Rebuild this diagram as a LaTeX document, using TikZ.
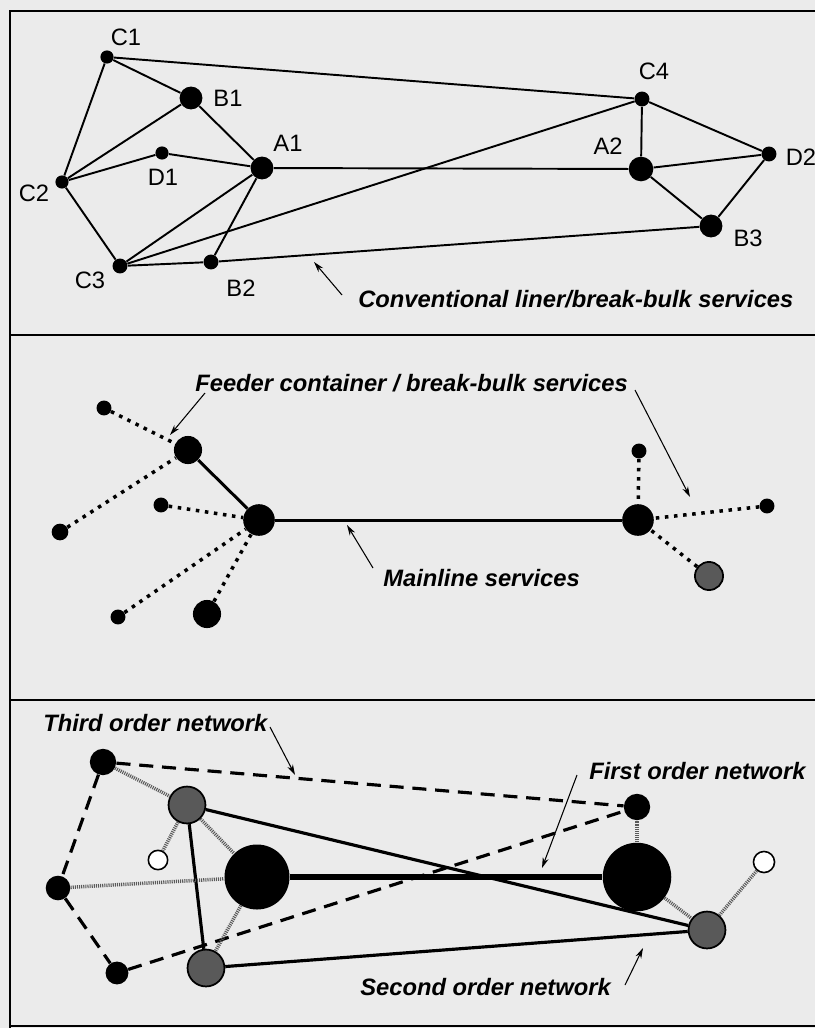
\documentclass[tikz,border=0pt]{standalone}
\usepackage{fontspec}
\setmainfont{Liberation Sans}
\usepackage{tikz}
\usetikzlibrary{arrows.meta}

\begin{document}
\begin{tikzpicture}[x=0.02cm,y=-0.02cm,
  port/.style={circle,fill=black,inner sep=0pt,minimum size=#1},
  grain/.style={circle,draw=black,fill=black!65,line width=1pt,inner sep=0pt,minimum size=#1},
  ring/.style={circle,draw=black,fill=white,line width=0.9pt,inner sep=0pt,minimum size=#1},
  lbl/.style={inner sep=0pt,font=\fontsize{13.5}{15}\selectfont},
  tag/.style={anchor=west,inner sep=0pt,font=\fontsize{13.5}{15}\selectfont\bfseries\itshape},
  route/.style={line width=1.1pt},
  main/.style={line width=1.7pt},
  feeder/.style={line width=2pt,dash pattern=on 2pt off 3.2pt},
  first/.style={line width=3pt},
  second/.style={line width=1.8pt},
  third/.style={line width=1.8pt,dash pattern=on 8pt off 5pt},
  spur/.style={line width=2pt,black!65,dash pattern=on 0.6pt off 0.6pt},
  pointer/.style={line width=0.6pt,-{Stealth[length=6pt,width=3.5pt]}}]

\fill[black!8] (0,0) rectangle (815,1028);
\useasboundingbox (0,0) rectangle (815,1028);
\draw[line width=1.3pt] (10,1028) -- (10,11) -- (815,11);
\foreach \y in {335,700,1026}
	\draw[line width=1.3pt] (10,\y) -- (815,\y);

% conventional liner network
\node[port=7.5pt] (C1) at (107,57) {};
\node[port=13pt] (B1) at (191,98) {};
\node[port=13pt] (A1) at (262,168) {};
\node[port=7.5pt] (D1) at (162,153) {};
\node[port=7.5pt] (C2) at (62,182) {};
\node[port=8.5pt] (C3) at (120,266) {};
\node[port=8.5pt] (B2) at (211,262) {};
\node[port=8.5pt] (C4) at (642,99) {};
\node[port=14pt] (A2) at (641,169) {};
\node[port=8.5pt] (D2) at (769,154) {};
\node[port=13pt] (B3) at (711,226) {};
\foreach \a/\b in {C1/B1,C1/C2,C1/C4,B1/C2,B1/A1,D1/C2,D1/A1,C2/C3,A1/C3,A1/B2,A1/A2,
	C3/B2,B2/B3,C3/C4,C4/A2,C4/D2,A2/D2,A2/B3,D2/B3}
	\draw[route] (\a) -- (\b);
\node[lbl] (C1l) at (126,37) {C1};
\node[lbl] (B1l) at (228,98) {B1};
\node[lbl] (A1l) at (288,143) {A1};
\node[lbl] (D1l) at (163,177) {D1};
\node[lbl] (C2l) at (34,193) {C2};
\node[lbl] (C3l) at (90,280) {C3};
\node[lbl] (B2l) at (241,288) {B2};
\node[lbl] (C4l) at (654,71) {C4};
\node[lbl] (A2l) at (608,146) {A2};
\node[lbl] (D2l) at (801,157) {D2};
\node[lbl] (B3l) at (748,238) {B3};
\node[tag] (conv) at (358,299) {Conventional liner/break-bulk services};
\coordinate (conv0) at (342,295);
\coordinate (conv1) at (314,262);
\draw[pointer] (conv0) -- (conv1);

% hub and feeder
\node[port=16pt] (F1) at (188,450) {};
\node[port=18pt] (M1) at (259,520) {};
\node[port=18pt] (M2) at (638,520) {};
\node[port=8.5pt] (p1) at (104,408) {};
\node[port=9.5pt] (p2) at (60,532) {};
\node[port=8.5pt] (p3) at (161,505) {};
\node[port=8.5pt] (p4) at (118,617) {};
\node[port=16pt] (p5) at (207,614) {};
\node[port=8.5pt] (q1) at (639,451) {};
\node[port=8.5pt] (q2) at (767,506) {};
\node[grain=16pt] (q3) at (709,576) {};
\draw[main] (F1) -- (M1);
\draw[main] (M1) -- (M2);
\foreach \a/\b in {p1/F1,p2/F1,p3/M1,p4/M1,p5/M1,q1/M2,q2/M2,q3/M2}
	\draw[feeder] (\a) -- (\b);
\node[tag] (feed) at (195,383) {Feeder container / break-bulk services};
\node[tag] (mainl) at (383,578) {Mainline services};
\coordinate (feed0) at (205,393);
\coordinate (feed1) at (170,435);
\coordinate (feed2) at (635,390);
\coordinate (feed3) at (690,497);
\coordinate (mainl0) at (373,568);
\coordinate (mainl1) at (347,525);
\draw[pointer] (feed0) -- (feed1);
\draw[pointer] (feed2) -- (feed3);
\draw[pointer] (mainl0) -- (mainl1);

% network orders
\node[port=15pt] (T1) at (103,762) {};
\node[port=14pt] (T2) at (58,888) {};
\node[port=13pt] (T3) at (117,973) {};
\node[port=15pt] (T4) at (637,807) {};
\node[grain=21pt] (S1) at (187,805) {};
\node[grain=21pt] (S2) at (206,968) {};
\node[grain=21pt] (S3) at (707,930) {};
\node[port=37pt] (G1) at (257,877) {};
\node[port=39pt] (G2) at (637,877) {};
\node[ring=11pt] (O1) at (158,860) {};
\node[ring=12pt] (O2) at (764,862) {};
\draw[first] (G1) -- (G2);
\foreach \a/\b in {S1/S3,S1/S2,S2/S3}
	\draw[second] (\a) -- (\b);
\foreach \a/\b in {T1/T4,T1/T2,T2/T3,T3/T4}
	\draw[third] (\a) -- (\b);
\foreach \a/\b in {T1/S1,S1/O1,S1/G1,T2/G1,G1/S2,G2/T4,G2/S3,S3/O2}
	\draw[spur] (\a) -- (\b);
\node[tag] (third) at (43,723) {Third order network};
\node[tag] (first) at (589,771) {First order network};
\node[tag] (second) at (360,987) {Second order network};
\coordinate (third0) at (270,727);
\coordinate (third1) at (295,775);
\coordinate (first0) at (577,775);
\coordinate (first1) at (542,868);
\coordinate (second0) at (625,985);
\coordinate (second1) at (643,948);
\draw[pointer] (third0) -- (third1);
\draw[pointer] (first0) -- (first1);
\draw[pointer] (second0) -- (second1);
\end{tikzpicture}
\end{document}
